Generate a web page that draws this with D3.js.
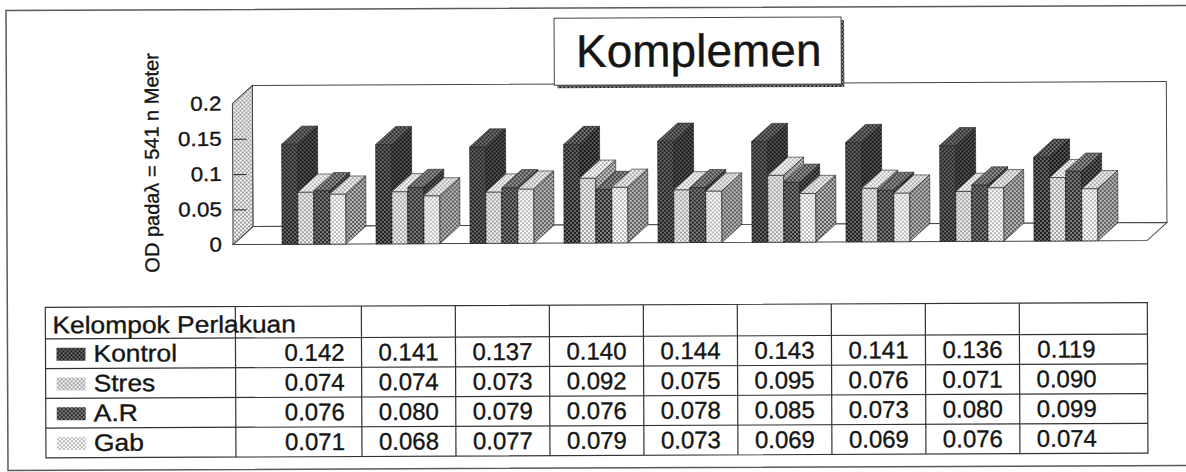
<!DOCTYPE html>
<html>
<head>
<meta charset="utf-8">
<script src="https://cdn.jsdelivr.net/npm/d3@7"></script>
<style>
  html, body { margin: 0; padding: 0; background: #fff; overflow: hidden; }
  svg { display: block; }
  text { font-family: "Liberation Sans", Arial, sans-serif; fill: #151515; stroke: #151515; stroke-width: 0.35; }
</style>
</head>
<body>
<svg id="chart" width="1186" height="472"></svg>
<script>
// Treatment columns (no labels shown in the table header)
const categories = ["P1", "P2", "P3", "P4", "P5", "P6", "P7", "P8", "P9"];
const seriesNames = ["Kontrol", "Stres", "A.R", "Gab"];
const kontrol = [0.142, 0.141, 0.137, 0.140, 0.144, 0.143, 0.141, 0.136, 0.119];
const stres   = [0.074, 0.074, 0.073, 0.092, 0.075, 0.095, 0.076, 0.071, 0.090];
const ar      = [0.076, 0.080, 0.079, 0.076, 0.078, 0.085, 0.073, 0.080, 0.099];
const gab     = [0.071, 0.068, 0.077, 0.079, 0.073, 0.069, 0.069, 0.076, 0.074];
const yTicks = [0, 0.05, 0.1, 0.15, 0.2];
const yTickLabels = ["0", "0.05", "0.1", "0.15", "0.2"];
const titleText = "Komplemen";
const yTitle = "OD padaλ = 541 n Meter";
const tableHeader = "Kelompok Perlakuan";

const seriesValues = [kontrol, stres, ar, gab];

const svg = d3.select("#chart");
const defs = svg.append("defs");

// Two-tone dither fills used for the shaded 3D faces
function dither(id, a, b) {
  const p = defs.append("pattern")
    .attr("id", id).attr("patternUnits", "userSpaceOnUse")
    .attr("width", 4).attr("height", 4);
  p.append("rect").attr("width", 4).attr("height", 4).attr("fill", a);
  p.append("rect").attr("width", 2).attr("height", 2).attr("fill", b);
  p.append("rect").attr("x", 2).attr("y", 2).attr("width", 2).attr("height", 2).attr("fill", b);
}
const faceFills = [
  { front: ["#1c1c1c", "#6c6c6c"], top: ["#262626", "#7a7a7a"], side: ["#121212", "#5a5a5a"] }, // Kontrol
  { front: ["#f2f2f2", "#a4a4a4"], top: ["#ffffff", "#b4b4b4"], side: ["#c8c8c8", "#6a6a6a"] }, // Stres
  { front: ["#262626", "#828282"], top: ["#3c3c3c", "#9a9a9a"], side: ["#161616", "#626262"] }, // A.R
  { front: ["#ffffff", "#b8b8b8"], top: ["#f4f4f4", "#ababab"], side: ["#bcbcbc", "#5a5a5a"] }  // Gab
];
faceFills.forEach((f, i) => {
  dither("front" + i, f.front[0], f.front[1]);
  dither("top" + i, f.top[0], f.top[1]);
  dither("side" + i, f.side[0], f.side[1]);
});
dither("wall", "#ffffff", "#9a9a9a");
dither("shadow", "#2a2a2a", "#8a8a8a");

// Whole sheet is slightly tilted
const root = svg.append("g").attr("transform", "rotate(-0.25 593 236)");

// Outer frame (its right side runs past the visible area)
root.append("path")
  .attr("d", "M1260,8 H7 V468 H1260")
  .attr("fill", "none").attr("stroke", "#5a5a5a").attr("stroke-width", 1.5);

// ---- 3D plot geometry ----
const DX = 20, DY = -18;           // depth offset of the box
const plotLeft = 233, plotRight = 1147;

const y = d3.scaleLinear().domain([0, 0.2]).range([243, 102]);
const x0 = d3.scaleBand().domain(categories).range([plotLeft, plotRight])
  .paddingInner(0).paddingOuter(0.362);
const x1 = d3.scaleBand().domain(seriesNames).range([0, x0.bandwidth()])
  .paddingInner(0).paddingOuter(0.9375);

const y0 = y(0), yTop = y(0.2);
const poly = pts => pts.map(p => p.join(",")).join(" ");

// back wall
root.append("rect")
  .attr("x", plotLeft + DX).attr("y", yTop + DY)
  .attr("width", plotRight - plotLeft).attr("height", y0 - yTop)
  .attr("fill", "#fff").attr("stroke", "#444").attr("stroke-width", 1);
// floor
root.append("polygon")
  .attr("points", poly([[plotLeft, y0], [plotRight, y0], [plotRight + DX, y0 + DY], [plotLeft + DX, y0 + DY]]))
  .attr("fill", "#fff").attr("stroke", "#444").attr("stroke-width", 1);
// left wall
root.append("polygon")
  .attr("points", poly([[plotLeft, yTop], [plotLeft + DX, yTop + DY], [plotLeft + DX, y0 + DY], [plotLeft, y0]]))
  .attr("fill", "url(#wall)").attr("stroke", "#444").attr("stroke-width", 1);

// tick marks on the left wall
const tickG = root.append("g").attr("transform", `translate(${plotLeft + 1},0)`)
  .call(d3.axisRight(y).tickValues(yTicks.slice(1, -1)).tickSize(13).tickFormat(""));
tickG.select(".domain").remove();
tickG.selectAll("line").attr("stroke", "#333").attr("stroke-width", 1.2);

// tick labels
const labG = root.append("g").attr("transform", "translate(222,0)")
  .call(d3.axisLeft(y).tickValues(yTicks).tickSize(0).tickPadding(0)
    .tickFormat((d, i) => yTickLabels[i]));
labG.select(".domain").remove();
labG.selectAll("text")
  .attr("font-size", 20).attr("fill", "#1a1a1a")
  .attr("font-family", "Liberation Sans, Arial, sans-serif")
  .attr("transform", "scale(1.12,1)");

// axis title
root.append("text")
  .attr("transform", "translate(152,161) rotate(-90)")
  .attr("text-anchor", "middle").attr("dominant-baseline", "central")
  .attr("font-size", 20)
  .text(yTitle);

// bars, painted left to right so each bar hides its neighbour's side face
const barW = x1.bandwidth();
const barsG = root.append("g");
categories.forEach((c, gi) => {
  seriesNames.forEach((s, si) => {
    const v = seriesValues[si][gi];
    const bx = x0(c) + x1(s), by = y(v);
    const g = barsG.append("g");
    g.append("rect")
      .attr("x", bx).attr("y", by).attr("width", barW).attr("height", y0 - by)
      .attr("fill", `url(#front${si})`).attr("stroke", "#222").attr("stroke-width", 0.6);
    g.append("polygon")
      .attr("points", poly([[bx, by], [bx + DX, by + DY], [bx + barW + DX, by + DY], [bx + barW, by]]))
      .attr("fill", `url(#top${si})`).attr("stroke", "#222").attr("stroke-width", 0.6);
    g.append("polygon")
      .attr("points", poly([[bx + barW, by], [bx + barW + DX, by + DY], [bx + barW + DX, y0 + DY], [bx + barW, y0]]))
      .attr("fill", `url(#side${si})`).attr("stroke", "#222").attr("stroke-width", 0.6);
  });
});

// title box with dotted drop shadow
const tb = { x: 555, y: 18, w: 287, h: 67 };
root.append("rect").attr("x", tb.x + 3).attr("y", tb.y + 3).attr("width", tb.w).attr("height", tb.h)
  .attr("fill", "url(#shadow)");
root.append("rect").attr("x", tb.x).attr("y", tb.y).attr("width", tb.w).attr("height", tb.h)
  .attr("fill", "#fff").attr("stroke", "#444").attr("stroke-width", 1);
root.append("text")
  .attr("x", tb.x + tb.w / 2 + 1).attr("y", 67)
  .attr("text-anchor", "middle").attr("font-size", 46)
  .text(titleText);

// ---- data table ----
const tLeft = 45, tRight = plotRight, labelColRight = 235;
const tTop = 305, headH = 31.5, rowH = 29.75;
const tBottom = tTop + headH + rowH * seriesNames.length;
const tbl = root.append("g");
const lineAttr = sel => sel.attr("stroke", "#333").attr("stroke-width", 1.2);

tbl.append("rect").attr("x", tLeft).attr("y", tTop).attr("width", tRight - tLeft).attr("height", tBottom - tTop)
  .attr("fill", "none").call(lineAttr);
d3.range(seriesNames.length).forEach(i => {
  const ly = tTop + headH + rowH * i;
  tbl.append("line").attr("x1", tLeft).attr("x2", tRight).attr("y1", ly).attr("y2", ly).call(lineAttr);
});
const colEdges = [labelColRight].concat(categories.slice(1).map(c => x0(c)));
colEdges.forEach(cx => {
  tbl.append("line").attr("x1", cx).attr("x2", cx).attr("y1", tTop).attr("y2", tBottom).call(lineAttr);
});

tbl.append("text")
  .attr("transform", `translate(52,${tTop + 26}) scale(1.1,1)`)
  .attr("font-size", 24).text(tableHeader);

seriesNames.forEach((s, si) => {
  const rt = tTop + headH + rowH * si;
  tbl.append("rect").attr("x", 56).attr("y", rt + 9).attr("width", 29).attr("height", 13)
    .attr("fill", `url(#front${si})`);
  tbl.append("text")
    .attr("transform", `translate(93,${rt + 23}) scale(1.1,1)`)
    .attr("font-size", 24).text(s);
  categories.forEach((c, gi) => {
    tbl.append("text")
      .attr("x", x0(c) + x0.bandwidth() / 2).attr("y", rt + 23)
      .attr("text-anchor", "middle").attr("font-size", 24)
      .text(d3.format(".3f")(seriesValues[si][gi]));
  });
});
</script>
</body>
</html>
